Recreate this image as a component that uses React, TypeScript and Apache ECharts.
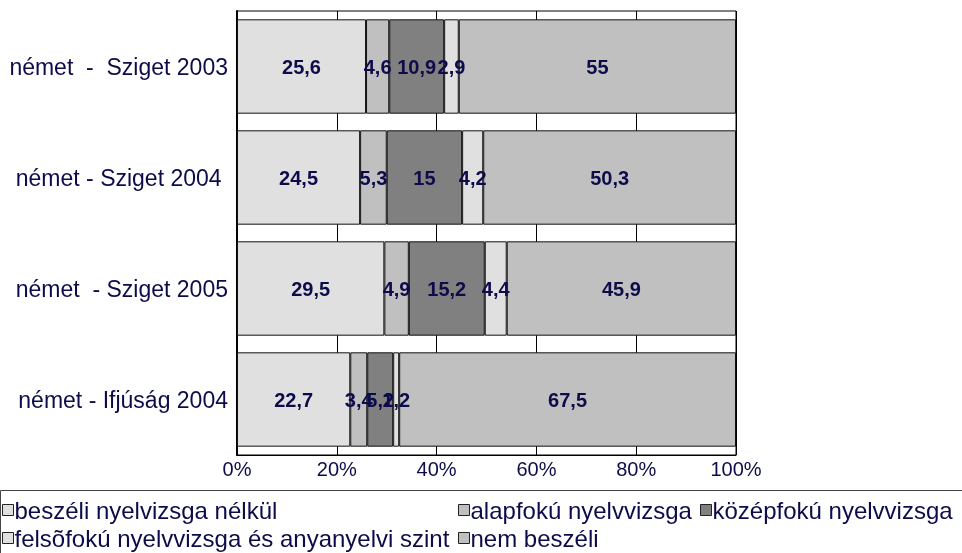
import React, { useEffect, useRef } from "react";
import * as echarts from "echarts";

const categories = [
  "német  -  Sziget 2003",
  "német - Sziget 2004 ",
  "német  - Sziget 2005",
  "német - Ifjúság 2004",
];
const seriesNames = [
  "beszéli nyelvizsga nélkül",
  "alapfokú nyelvvizsga",
  "középfokú nyelvvizsga",
  "felsõfokú nyelvvizsga és anyanyelvi szint",
  "nem beszéli",
];
const beszeliNelkul = [25.6, 24.5, 29.5, 22.7];
const alapfoku = [4.6, 5.3, 4.9, 3.4];
const kozepfoku = [10.9, 15, 15.2, 5.2];
const felsofoku = [2.9, 4.2, 4.4, 1.2];
const nemBeszeli = [55, 50.3, 45.9, 67.5];
const xTicks = [0, 20, 40, 60, 80, 100];

const colors = ["#E0E0E0", "#C0C0C0", "#808080", "#E0E0E0", "#C0C0C0"];
const textColor = "#0c0c4a";
const font = "Liberation Sans, Arial, sans-serif";

export default function App() {
  const ref = useRef<HTMLDivElement>(null);
  useEffect(() => {
    if (!ref.current) return;
    const chart = echarts.init(ref.current, null, { renderer: "svg" });
    const raw = [beszeliNelkul, alapfoku, kozepfoku, felsofoku, nemBeszeli];
    const totals = categories.map((_, i) => raw.reduce((s, arr) => s + arr[i], 0));
    const legendPos = [
      { left: 2, top: 498 },
      { left: 458, top: 498 },
      { left: 700, top: 498 },
      { left: 2, top: 526 },
      { left: 458, top: 526 },
    ];
    chart.setOption({
      animation: false,
      textStyle: { fontFamily: font },
      grid: {
        left: 237,
        right: 226,
        top: 11,
        bottom: 98,
        show: true,
        borderColor: "#000",
        borderWidth: 1,
        backgroundColor: "#fff",
      },
      legend: seriesNames.map((n, i) => ({
        data: [n],
        left: legendPos[i].left,
        top: legendPos[i].top,
        icon: "rect",
        itemWidth: 11,
        itemHeight: 11,
        itemGap: 0,
        padding: 0,
        selectedMode: false,
        itemStyle: { borderColor: "#222", borderWidth: 1 },
        textStyle: {
          fontSize: 24,
          color: textColor,
          padding: [0, 0, 0, -4],
          fontFamily: font,
        },
      })),
      graphic: [
        {
          type: "rect",
          shape: { x: 0.5, y: 490.5, width: 980, height: 80 },
          style: { fill: "none", stroke: "#444", lineWidth: 1 },
          silent: true,
          z: -1,
        },
      ],
      xAxis: {
        type: "value",
        min: 0,
        max: 100,
        interval: 20,
        axisLabel: {
          formatter: (v: number) => (xTicks.includes(v) ? v + "%" : ""),
          fontSize: 20,
          color: textColor,
          margin: 4,
        },
        axisLine: { show: true, lineStyle: { color: "#000", width: 1 } },
        axisTick: { show: false },
        splitLine: { show: true, lineStyle: { color: "#000", width: 1 } },
      },
      yAxis: {
        type: "category",
        data: categories,
        inverse: true,
        axisLine: { show: true, lineStyle: { color: "#000", width: 2 } },
        axisTick: { show: false },
        axisLabel: { fontSize: 23, color: textColor, margin: 9 },
      },
      series: seriesNames.map((name, si) => ({
        name,
        type: "bar",
        stack: "total",
        barCategoryGap: "15%",
        data: raw[si].map((v, i) => ({ value: (v / totals[i]) * 100 })),
        itemStyle: { color: colors[si], borderColor: "#111", borderWidth: 1 },
        label: {
          show: true,
          position: "inside",
          fontSize: 20,
          fontWeight: "bold",
          color: textColor,
          formatter: (p: any) => String(raw[si][p.dataIndex]).replace(".", ","),
        },
      })),
    });
    return () => chart.dispose();
  }, []);
  return (
    <>
      <style>{"#root svg text { white-space: pre; }"}</style>
      <div
        ref={ref}
        style={{ position: "fixed", left: 0, top: 0, width: 962, height: 553 }}
      />
    </>
  );
}
